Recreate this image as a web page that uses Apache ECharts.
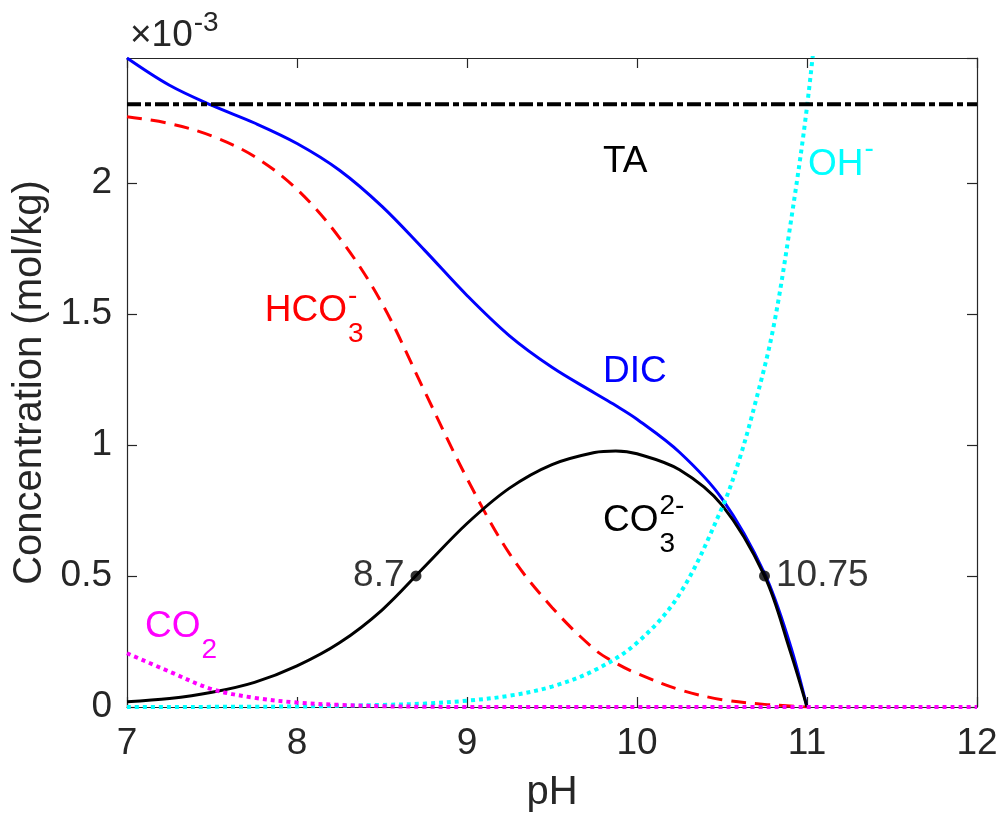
<!DOCTYPE html>
<html>
<head>
<meta charset="utf-8">
<script src="https://cdn.jsdelivr.net/npm/echarts@6/dist/echarts.min.js"></script>
<style>
  html, body { margin: 0; background: #fff; }
  #chart { width: 1001px; height: 818px; }
</style>
</head>
<body>
<div id="chart"></div>
<script>
// concentrations in units of 1e-3 mol/kg
const phGrid = [7, 7.25, 7.5, 7.75, 8, 8.25, 8.5, 8.75, 9, 9.25, 9.5, 9.75, 9.875, 10, 10.25, 10.5, 10.75, 10.9, 11];
const dic  = [2.476, 2.372, 2.295, 2.228, 2.150, 2.048, 1.910, 1.743, 1.570, 1.416, 1.296, 1.198, 1.150, 1.098, 0.972, 0.795, 0.510, 0.240, 0];
const hco3 = [2.252, 2.226, 2.178, 2.100, 1.975, 1.790, 1.540, 1.205, 0.872, 0.585, 0.380, 0.220, 0.168, 0.128, 0.066, 0.028, 0.010, 0.004, 0];
const co3  = [0.020, 0.032, 0.056, 0.094, 0.157, 0.245, 0.370, 0.535, 0.700, 0.835, 0.925, 0.971, 0.977, 0.966, 0.905, 0.770, 0.500, 0.215, 0];

const phCO2 = [7, 7.25, 7.5, 7.75, 8, 8.25, 8.5, 8.75, 9, 12];
const co2   = [0.205, 0.135, 0.068, 0.035, 0.017, 0.008, 0.003, 0.001, 0, 0];

const phOH = [7, 8, 8.5, 8.75, 9, 9.25, 9.5, 9.75, 10, 10.25, 10.5, 10.6, 10.7, 10.8, 10.9, 11, 11.1];
const oh   = [0, 0.002, 0.008, 0.013, 0.024, 0.043, 0.078, 0.14, 0.245, 0.43, 0.76, 0.94, 1.17, 1.44, 1.83, 2.29, 2.90];

const phTA = [7, 12];
const ta   = [2.3, 2.3];

// marked points on the carbonate curve
const markPH   = [8.7, 10.75];
const markConc = [0.5, 0.5];

// text annotations (left edge, vertical centre, in data units)
const notes = [
  { text: 'TA',  sub: '',  sup: '',   x: 9.80,  y: 2.08,  color: '#000000' },
  { text: 'OH',  sub: '',  sup: '-',  x: 11.006, y: 2.07, color: '#00FFFF' },
  { text: 'HCO', sub: '3', sup: '-',  x: 7.81,  y: 1.51,  color: '#FF0000' },
  { text: 'DIC', sub: '',  sup: '',   x: 9.80,  y: 1.28,  color: '#0000FF' },
  { text: 'CO',  sub: '3', sup: '2-', x: 9.80,  y: 0.71,  color: '#000000' },
  { text: 'CO',  sub: '2', sup: '',   x: 7.106, y: 0.305, color: '#FF00FF' }
];

const FONT = '"Liberation Sans", Arial, Helvetica, sans-serif';
const INK = '#262626';
const yMax = 2.476;

function pairs(xs, ys) {
  return xs.map((x, i) => [x, ys[i]]);
}

const chart = echarts.init(document.getElementById('chart'));

const axisCommon = {
  axisLine: { show: true, onZero: false, lineStyle: { color: INK, width: 1.2 } },
  axisTick: { show: true, inside: true, length: 10, lineStyle: { color: INK, width: 1.2 } },
  splitLine: { show: false }
};

const option = {
  animation: false,
  backgroundColor: '#fff',
  textStyle: { fontFamily: FONT },
  grid: { left: 127, top: 58, right: 24, bottom: 110 },
  xAxis: [
    Object.assign({
      type: 'value', min: 7, max: 12, interval: 1, position: 'bottom',
      name: 'pH', nameLocation: 'middle', nameGap: 66,
      nameTextStyle: { fontSize: 40, color: INK, fontFamily: FONT },
      axisLabel: { fontSize: 37, color: INK, margin: 18, fontFamily: FONT }
    }, axisCommon),
    Object.assign({
      type: 'value', min: 7, max: 12, interval: 1, position: 'top',
      axisLabel: { show: false }
    }, axisCommon)
  ],
  yAxis: [
    Object.assign({
      type: 'value', min: 0, max: yMax, interval: 0.5, position: 'left',
      name: 'Concentration (mol/kg)', nameLocation: 'middle', nameGap: 74,
      nameTextStyle: { fontSize: 40, color: INK, fontFamily: FONT },
      axisLabel: {
        fontSize: 37, color: INK, margin: 15, fontFamily: FONT, showMaxLabel: false,
        formatter: v => (Math.abs(v / 0.5 - Math.round(v / 0.5)) < 1e-6 ? String(v) : '')
      }
    }, axisCommon),
    Object.assign({
      type: 'value', min: 0, max: yMax, interval: 0.5, position: 'right',
      axisLabel: { show: false }
    }, axisCommon)
  ],
  series: [
    {
      name: 'DIC', type: 'line', data: pairs(phGrid, dic), smooth: 0.35,
      showSymbol: false, lineStyle: { color: '#0000FF', width: 3 }, z: 2
    },
    {
      name: 'HCO3', type: 'line', data: pairs(phGrid, hco3), smooth: 0.35,
      showSymbol: false, lineStyle: { color: '#FF0000', width: 3, type: [15, 9] }, z: 3
    },
    {
      name: 'CO3', type: 'line', data: pairs(phGrid, co3), smooth: 0.35,
      showSymbol: false, lineStyle: { color: '#000000', width: 3 }, z: 4
    },
    {
      name: 'CO2', type: 'line', data: pairs(phCO2, co2), smooth: 0.35,
      showSymbol: false, lineStyle: { color: '#FF00FF', width: 4, type: [4, 4] }, z: 6
    },
    {
      name: 'OH', type: 'line', data: pairs(phOH, oh), smooth: 0.35,
      showSymbol: false, lineStyle: { color: '#00FFFF', width: 4, type: [4, 4] }, z: 5
    },
    {
      name: 'TA', type: 'line', data: pairs(phTA, ta),
      showSymbol: false, lineStyle: { color: '#000000', width: 4, type: [14, 4, 6, 4] }, z: 7
    },
    {
      name: 'marks', type: 'scatter', symbol: 'circle', symbolSize: 11,
      itemStyle: { color: '#000000' }, z: 8,
      data: markPH.map((x, i) => ({
        value: [x, markConc[i]],
        label: {
          show: true, position: i === 0 ? 'left' : 'right', distance: 6,
          formatter: String(x), fontSize: 37, color: '#000000', fontFamily: FONT
        }
      }))
    }
  ]
};

chart.setOption(option);

// annotations with sub/superscripts
const ctx = document.createElement('canvas').getContext('2d');
function textWidth(s, size) {
  ctx.font = size + 'px ' + FONT;
  return ctx.measureText(s).width;
}
function textEl(text, x, y, size, color) {
  return {
    type: 'text', x: x, y: y, z: 20,
    style: {
      text: text, fill: color, font: size + 'px ' + FONT,
      align: 'left', verticalAlign: 'middle',
      textAlign: 'left', textVerticalAlign: 'middle'
    }
  };
}

const elements = [];
notes.forEach(n => {
  const p = chart.convertToPixel({ gridIndex: 0 }, [n.x, n.y]);
  elements.push(textEl(n.text, p[0], p[1], 37, n.color));
  const w = textWidth(n.text, 37) + 1;
  if (n.sub) elements.push(textEl(n.sub, p[0] + w, p[1] + 23, 28, n.color));
  if (n.sup) elements.push(textEl(n.sup, p[0] + w, p[1] - 15, 28, n.color));
});

// exponent marker above the y axis
elements.push(textEl('\u00d710', 130, 36, 37, INK));
elements.push(textEl('-3', 130 + textWidth('\u00d710', 37) + 1, 23, 28, INK));

chart.setOption({ graphic: { elements: elements } });
</script>
</body>
</html>
